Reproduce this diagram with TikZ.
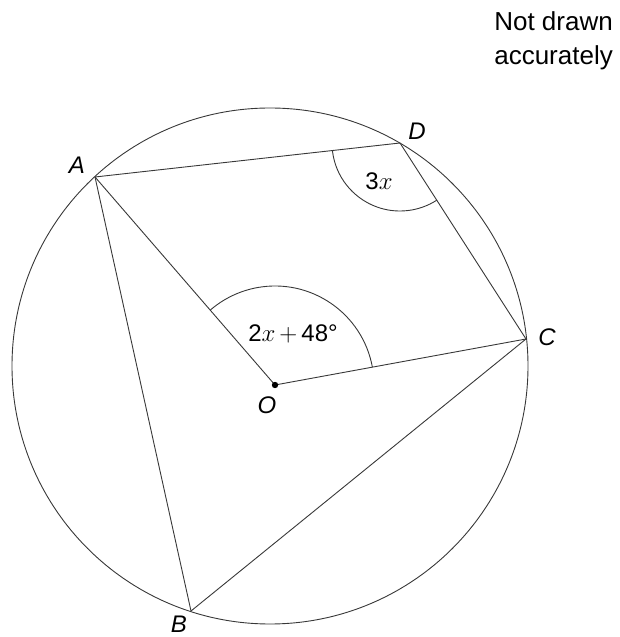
\documentclass[tikz,border=0pt]{standalone}
\usepackage{fontspec}
\setmainfont{Liberation Sans}
\usepackage{tikz}
\usetikzlibrary{angles}
\definecolor{linegray}{rgb}{0.22,0.22,0.22}

\begin{document}
\begin{tikzpicture}[x=1pt, y=1pt,
      ln/.style={draw=linegray, line width=0.9pt},
      lbl/.style={font=\fontsize{24}{28}\selectfont\itshape, inner sep=0pt},
      anglbl/.style={font=\fontsize{24}{28}\selectfont, inner sep=0pt},
      note/.style={font=\fontsize{26}{34}\selectfont, align=right, inner sep=0pt}
  ]
    \useasboundingbox (0,0) rectangle (619,637);
    % points on the circle
    \coordinate (ctr) at (270,271);
    \coordinate (A) at (95,460);
    \coordinate (D) at (400,494);
    \coordinate (C) at (526,298);
    \coordinate (B) at (191,26);
    \coordinate (O) at (275,252);
    \draw[ln] (ctr) circle[radius=258];
    \draw[ln] (A) -- (D) -- (C) -- (B) -- cycle;
    \draw[ln] (A) -- (O) -- (C);
    \fill[black] (O) circle[radius=3.2];
    % angles
    \pic[ln, angle radius=99] {angle=C--O--A};
    \pic[ln, angle radius=68] {angle=A--D--C};
    \node[anglbl] (aO) at (293,303) {2$x$\hspace{4pt}$+$\hspace{4pt}48°};
    \node[anglbl] (aD) at (379,456) {3$x$};
    % labels
    \node[lbl] (lA) at (77,472) {A};
    \node[lbl] (lD) at (417,506) {D};
    \node[lbl] (lC) at (547,300) {C};
    \node[lbl] (lB) at (179,13) {B};
    \node[lbl] (lO) at (267,232) {O};
    \node[note, anchor=north east] (nda) at (613,626) {Not drawn\\accurately};
  \end{tikzpicture}
\end{document}
